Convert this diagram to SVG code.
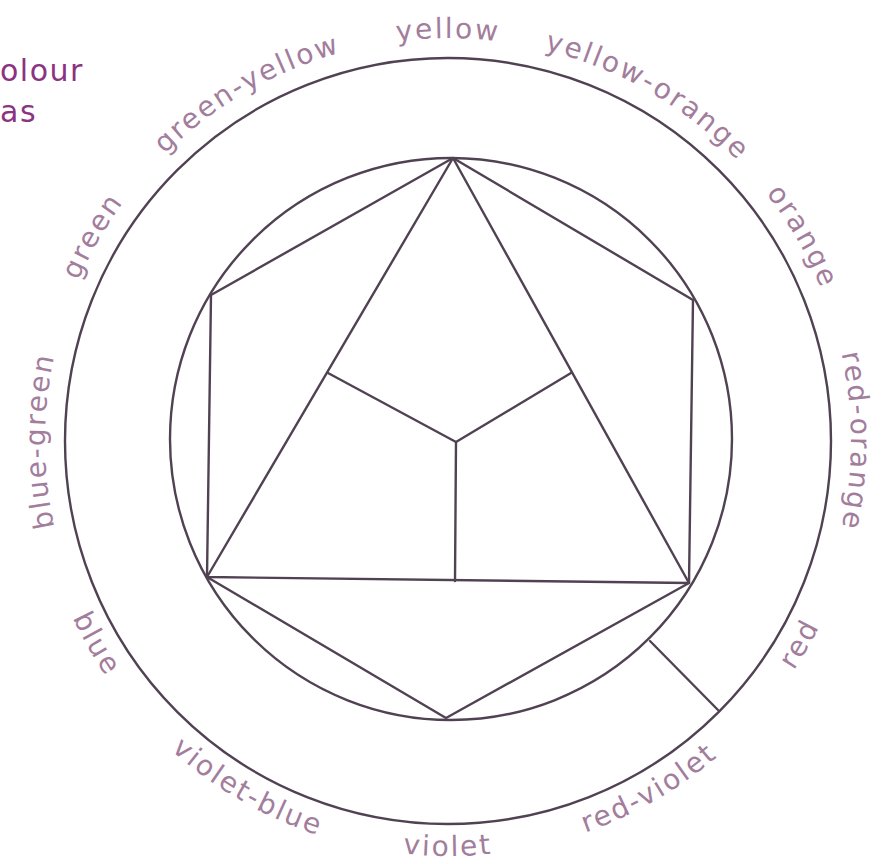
<svg xmlns="http://www.w3.org/2000/svg" xmlns:xlink="http://www.w3.org/1999/xlink" width="892" height="864" viewBox="0 0 892 864">
<style>
.ln{fill:none;stroke:#514253;stroke-width:2.4;stroke-linejoin:round;stroke-linecap:round}
.lbl{font-family:"DejaVu Sans","Liberation Sans",sans-serif;font-size:28px;fill:#a27d9c;letter-spacing:2.2px}
.hdr{font-family:"DejaVu Sans","Liberation Sans",sans-serif;font-size:30px;fill:#8b3381;letter-spacing:1.5px}
</style>
<defs>
<path id="cw" d="M448,844 A403,403 0 1,1 448,38 A403,403 0 1,1 448,844"/>
<path id="ccw" d="M448,26 A415,415 0 1,0 448,856 A415,415 0 1,0 448,26"/>
</defs>
<rect width="892" height="864" fill="#ffffff"/>
<g id="header">
<text class="hdr" x="0" y="81">olour</text>
<text class="hdr" x="0" y="122">as</text>
</g>
<g id="outer-circle"><circle class="ln" cx="448" cy="441" r="383"/></g>
<g id="inner-circle"><circle class="ln" cx="451" cy="439" r="281"/></g>
<g id="hexagon"><polygon class="ln" points="453,158 693,300 689,583 446,718 207,577 211,295"/></g>
<g id="triangle"><polygon class="ln" points="453,158 689,583 207,577"/></g>
<g id="connectors">
<polyline class="ln" points="328,373 456,442 571,373"/>
<line class="ln" x1="456" y1="442" x2="455" y2="581"/>
<line class="ln" x1="650" y1="641" x2="718" y2="710"/>
</g>
<g id="labels">
<text class="lbl"><textPath xlink:href="#cw" href="#cw" startOffset="25%" text-anchor="middle">blue-green</textPath></text>
<text class="lbl"><textPath xlink:href="#cw" href="#cw" startOffset="33.33%" text-anchor="middle">green</textPath></text>
<text class="lbl"><textPath xlink:href="#cw" href="#cw" startOffset="41.67%" text-anchor="middle">green-yellow</textPath></text>
<text class="lbl"><textPath xlink:href="#cw" href="#cw" startOffset="50%" text-anchor="middle">yellow</textPath></text>
<text class="lbl"><textPath xlink:href="#cw" href="#cw" startOffset="58.33%" text-anchor="middle">yellow-orange</textPath></text>
<text class="lbl"><textPath xlink:href="#cw" href="#cw" startOffset="66.67%" text-anchor="middle">orange</textPath></text>
<text class="lbl"><textPath xlink:href="#cw" href="#cw" startOffset="75%" text-anchor="middle">red-orange</textPath></text>
<text class="lbl"><textPath xlink:href="#ccw" href="#ccw" startOffset="33.33%" text-anchor="middle">blue</textPath></text>
<text class="lbl"><textPath xlink:href="#ccw" href="#ccw" startOffset="41.67%" text-anchor="middle">violet-blue</textPath></text>
<text class="lbl"><textPath xlink:href="#ccw" href="#ccw" startOffset="50%" text-anchor="middle">violet</textPath></text>
<text class="lbl"><textPath xlink:href="#ccw" href="#ccw" startOffset="58.33%" text-anchor="middle">red-violet</textPath></text>
<text class="lbl"><textPath xlink:href="#ccw" href="#ccw" startOffset="66.67%" text-anchor="middle">red</textPath></text>
</g>
</svg>
